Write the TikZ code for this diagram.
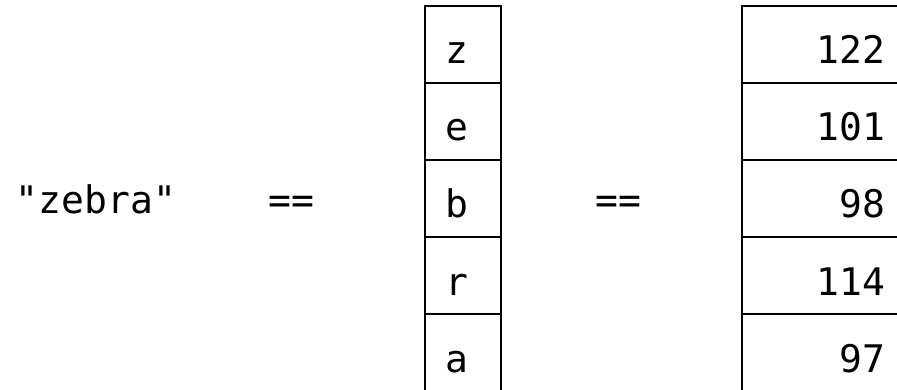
\documentclass[tikz,border=0pt]{standalone}
\usepackage{fontspec}
\setmonofont{DejaVu Sans Mono}
\usepackage{tikz}
\usetikzlibrary{positioning}
\tikzset{cellbase/.style={draw,line width=1.5pt,outer sep=0pt,minimum height=77pt,inner ysep=0pt,text height=39pt,text depth=0pt},
lettercell/.style={cellbase,inner xsep=20pt,text width=36pt,align=left},
numcell/.style={cellbase,inner xsep=21pt,text width=122pt,align=right}}

\begin{document}
\begin{tikzpicture}[x=1pt,y=-1pt,font=\ttfamily\fontsize{38}{40}\selectfont]
\useasboundingbox (0,0) rectangle (897,390);
% the string, its letters, their codes
\node[anchor=base] (word) at (96,214) {"zebra"};\node[anchor=base] (eqa) at (291,214) {==};\node[anchor=base] (eqb) at (618,214) {==};
\foreach \l [count=\i] in {z,e,b,r,a}{\node[lettercell,anchor=north west] (c\i) at (425,{6+77*(\i-1)}) {\l};}
\foreach \n [count=\i] in {122,101,98,114,97}{\node[numcell,anchor=north west] (n\i) at (742,{6+77*(\i-1)}) {\n};}
\end{tikzpicture}
\end{document}
